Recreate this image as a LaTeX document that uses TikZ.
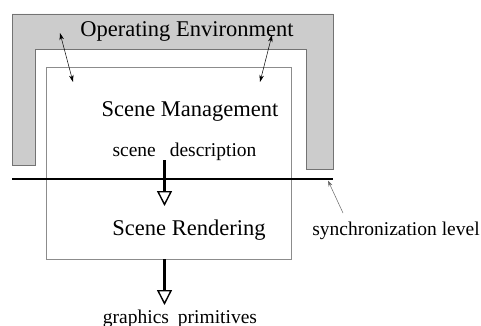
\documentclass[tikz,border=0pt]{standalone}
\usepackage{fontspec}
\setmainfont{Liberation Serif}
\usetikzlibrary{arrows.meta}

\tikzset{
  big/.style={font=\fontsize{22.5}{26}\selectfont, inner sep=0pt, anchor=base},
  small/.style={font=\fontsize{19.5}{23}\selectfont, inner sep=0pt, anchor=base},
  flow/.style={line width=2.5pt, -{Triangle[open, length=15pt, width=15pt, line width=1.4pt]}},
  link/.style={line width=0.5pt, {Stealth[length=7pt, width=4.5pt]}-{Stealth[length=7pt, width=4.5pt]}}
}

\begin{document}
\begin{tikzpicture}[x=1pt, y=-1pt]
  \useasboundingbox (0,0) rectangle (481,326);

  % Operating environment frame
  \filldraw[fill=gray!40, draw=black!55, line width=0.8pt]
    (12,14) -- (333,14) -- (333,169) -- (306,169) -- (306,49)
    -- (35,49) -- (35,165) -- (12,165) -- cycle;
  \node[big] (env) at (187,36.5) {Operating Environment};

  % System box
  \node[draw=black!45, line width=0.8pt, minimum width=245pt, minimum height=192pt,
        inner sep=0pt] (sys) at (168.5,163) {};

  % Texts
  \node[big] (mgmt) at (190,116) {Scene Management};
  \node[small] (desc) at (184.5,156) {scene\hspace{14pt}description};
  \node[big] (rend) at (189,235) {Scene Rendering};
  \node[small] (sync) at (396,235) {synchronization level};
  \node[small] (prim) at (180,323) {graphics\hspace{9pt}primitives};

  % Synchronization level
  \coordinate (sl) at (12,179);
  \coordinate (sr) at (333,179);
  \draw[line width=2pt] (sl) -- (sr);
  \coordinate (sp) at (343,213);
  \draw[black!60, line width=0.5pt, -{Stealth[length=6pt, width=4pt]}] (sp) -- (328,180.5);

  % Data flow
  \coordinate (d1) at (164.5,160);
  \coordinate (d2) at (164.5,206);
  \draw[flow] (d1) -- (d2);
  \coordinate (p1) at (164.5,259);
  \coordinate (p2) at (164.5,305);
  \draw[flow] (p1) -- (p2);

  % Links to the environment
  \coordinate (l1) at (60,33);
  \coordinate (l2) at (73,82);
  \draw[link] (l1) -- (l2);
  \coordinate (r1) at (272,35);
  \coordinate (r2) at (260,82);
  \draw[link] (r1) -- (r2);
\end{tikzpicture}
\end{document}
